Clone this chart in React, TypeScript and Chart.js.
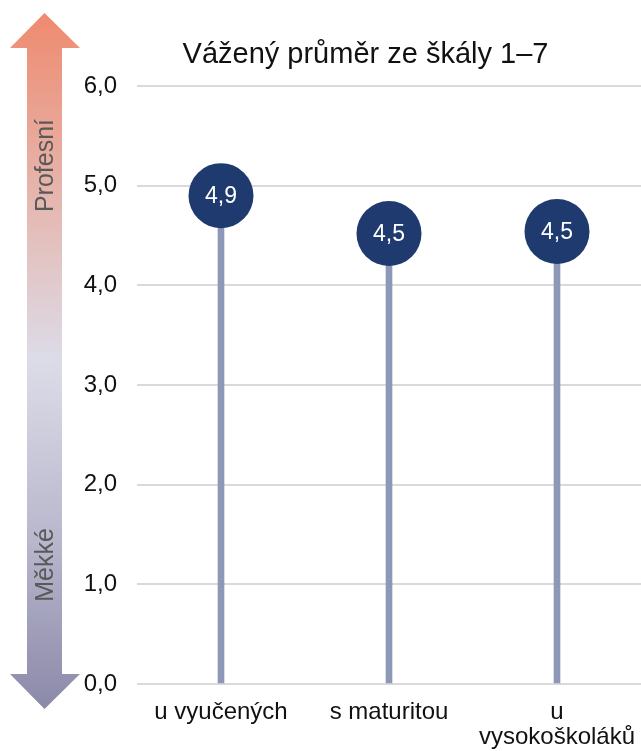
import React, { useEffect, useRef } from 'react';
import { Chart, registerables } from 'chart.js';

Chart.register(...registerables);

const categories: (string | string[])[] = ['u vyučených', 's maturitou', ['u', 'vysokoškoláků']];
const values: number[] = [4.9, 4.52, 4.54];
const yMin = 0;
const yMax = 6;
const yStep = 1;
const titleText = 'Vážený průměr ze škály 1–7';
const arrowTopLabel = 'Profesní';
const arrowBottomLabel = 'Měkké';

const FONT = '"Liberation Sans", Arial, sans-serif';
const fmt = (v: number) => v.toFixed(1).replace('.', ',');

const arrowPlugin = {
  id: 'sideArrow',
  beforeDraw(chart: any) {
    const ctx = chart.ctx as CanvasRenderingContext2D;
    ctx.save();
    const cx = 44.5;
    const top = 13;
    const bottom = 709;
    const headH = 35;
    const headL = 10;
    const headR = 80;
    const shaftL = 27;
    const shaftR = 62;
    const g = ctx.createLinearGradient(0, top, 0, bottom);
    g.addColorStop(0, '#ef8a6f');
    g.addColorStop(0.25, '#e6b4ab');
    g.addColorStop(0.5, '#dcdce8');
    g.addColorStop(0.75, '#b9b8cd');
    g.addColorStop(1, '#8b89a9');
    ctx.fillStyle = g;
    ctx.beginPath();
    ctx.moveTo(cx, top);
    ctx.lineTo(headR, top + headH);
    ctx.lineTo(shaftR, top + headH);
    ctx.lineTo(shaftR, bottom - headH);
    ctx.lineTo(headR, bottom - headH);
    ctx.lineTo(cx, bottom);
    ctx.lineTo(headL, bottom - headH);
    ctx.lineTo(shaftL, bottom - headH);
    ctx.lineTo(shaftL, top + headH);
    ctx.lineTo(headL, top + headH);
    ctx.closePath();
    ctx.fill();

    ctx.fillStyle = '#595959';
    ctx.font = `25px ${FONT}`;
    ctx.textAlign = 'center';
    ctx.textBaseline = 'alphabetic';
    ctx.save();
    ctx.translate(53, 165.5);
    ctx.rotate(-Math.PI / 2);
    ctx.fillText(arrowTopLabel, 0, 0);
    ctx.restore();
    ctx.save();
    ctx.translate(53, 565);
    ctx.rotate(-Math.PI / 2);
    ctx.fillText(arrowBottomLabel, 0, 0);
    ctx.restore();
    ctx.restore();
  },
};

const titlePlugin = {
  id: 'customTitle',
  afterDraw(chart: any) {
    const ctx = chart.ctx as CanvasRenderingContext2D;
    ctx.save();
    ctx.fillStyle = '#111111';
    ctx.font = `29px ${FONT}`;
    ctx.textAlign = 'center';
    ctx.textBaseline = 'alphabetic';
    ctx.fillText(titleText, 365.5, 63);
    ctx.restore();
  },
};

const valueLabelPlugin = {
  id: 'valueLabels',
  afterDatasetsDraw(chart: any) {
    const ctx = chart.ctx as CanvasRenderingContext2D;
    const meta = chart.getDatasetMeta(1);
    ctx.save();
    ctx.fillStyle = '#ffffff';
    ctx.font = `23px ${FONT}`;
    ctx.textAlign = 'center';
    ctx.textBaseline = 'middle';
    meta.data.forEach((pt: any, i: number) => {
      ctx.fillText(fmt(values[i]), pt.x, pt.y + 1);
    });
    ctx.restore();
  },
};

export default function App() {
  const ref = useRef<HTMLCanvasElement | null>(null);

  useEffect(() => {
    if (!ref.current) return;
    const chart = new Chart(ref.current, {
      type: 'bar',
      data: {
        labels: categories as any,
        datasets: [
          {
            type: 'bar',
            data: values,
            backgroundColor: '#8c98b6',
            barThickness: 6,
            order: 2,
          } as any,
          {
            type: 'line',
            data: values,
            showLine: false,
            pointRadius: 32.5,
            pointHoverRadius: 32.5,
            pointBackgroundColor: '#1f3a6e',
            pointBorderWidth: 0,
            pointBorderColor: '#1f3a6e',
            order: 1,
            clip: false,
          } as any,
        ],
      },
      options: {
        animation: false,
        responsive: false,
        devicePixelRatio: 1,
        layout: { autoPadding: false, padding: { left: 80, top: 86, right: 0, bottom: 0 } },
        plugins: {
          legend: { display: false },
          tooltip: { enabled: false },
          title: { display: false },
        },
        scales: {
          x: {
            grid: { display: false, drawTicks: false },
            border: { display: false },
            ticks: {
              font: { family: FONT, size: 24, lineHeight: 1.05 },
              color: '#111111',
              padding: 16,
              maxRotation: 0,
              autoSkip: false,
            },
            afterFit: (scale: any) => {
              scale.height = 67;
              scale.paddingLeft = 0;
              scale.paddingRight = 0;
            },
          },
          y: {
            min: yMin,
            max: yMax,
            grid: { color: '#d9d9d9', lineWidth: 2, drawTicks: false },
            border: { display: false },
            ticks: {
              stepSize: yStep,
              font: { family: FONT, size: 24 },
              color: '#111111',
              padding: 20,
              callback: (v: any) => fmt(Number(v)),
            },
            afterFit: (scale: any) => {
              scale.width = 57;
            },
          },
        },
      },
      plugins: [arrowPlugin, titlePlugin, valueLabelPlugin],
    });
    return () => chart.destroy();
  }, []);

  return (
    <div style={{ position: 'absolute', left: 0, top: 0, width: 641, height: 751 }}>
      <canvas ref={ref} width={641} height={751} style={{ display: 'block', width: 641, height: 751 }} />
    </div>
  );
}
